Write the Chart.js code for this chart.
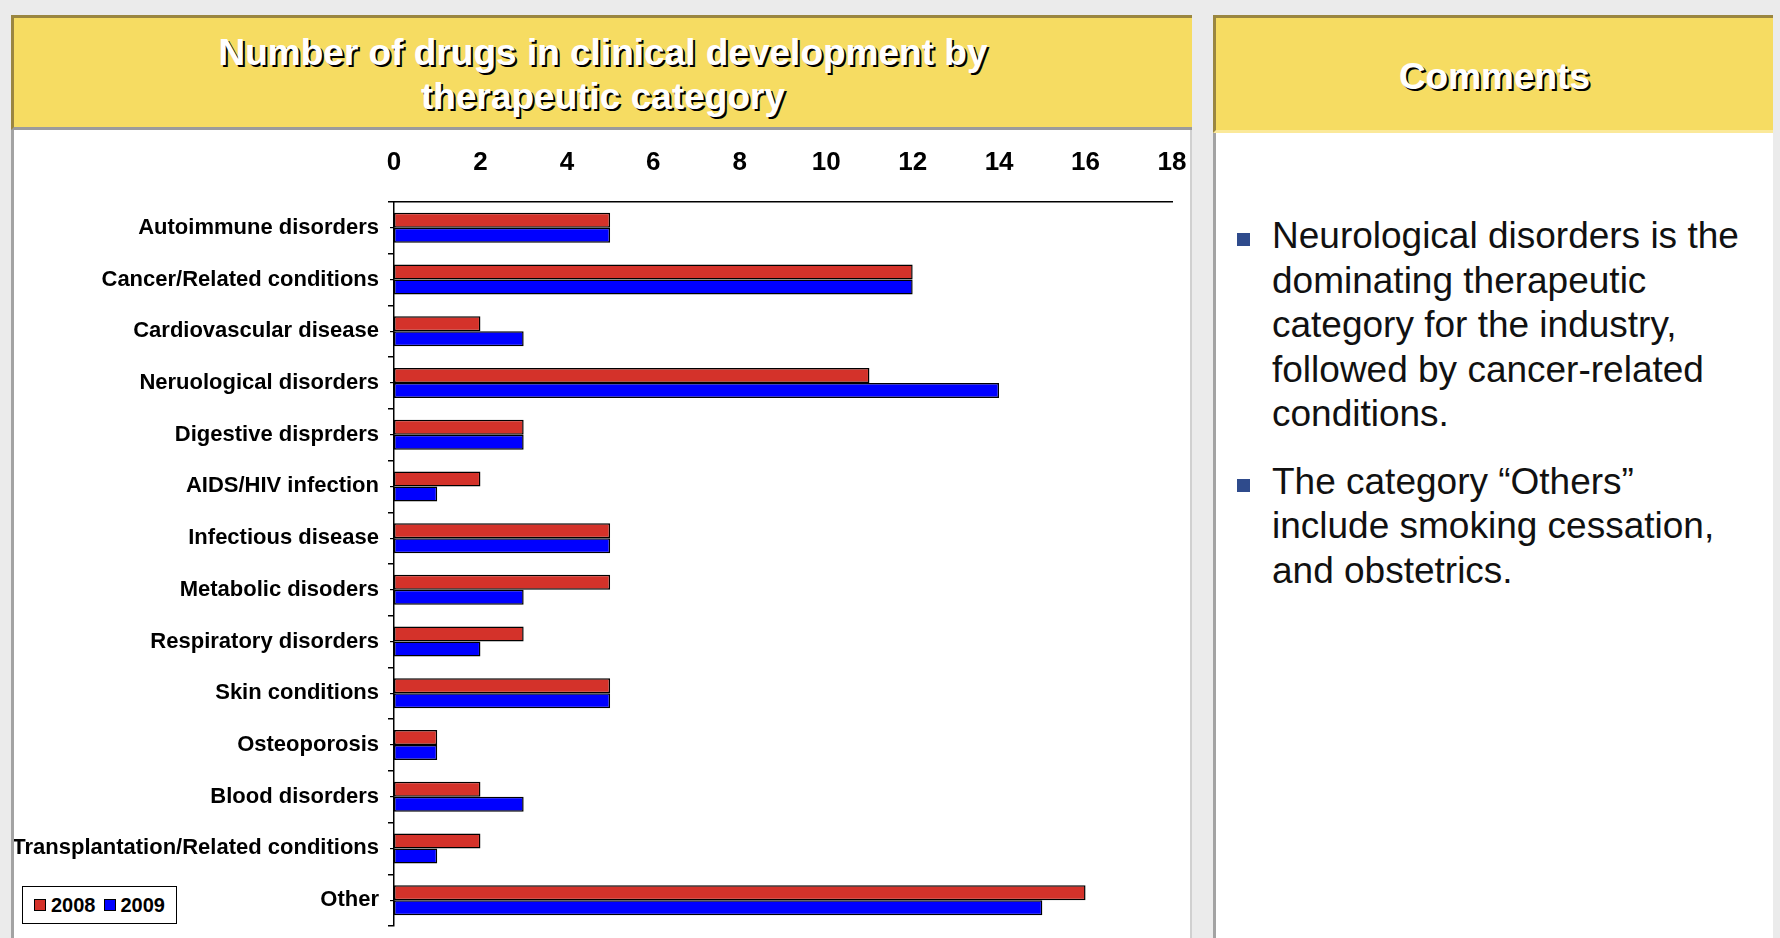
<!DOCTYPE html>
<html>
<head>
<meta charset="utf-8">
<script src="https://cdn.jsdelivr.net/npm/chart.js@4.4.1/dist/chart.umd.min.js"></script>
<style>
    body {
        margin: 0;
        width: 1780px;
        height: 938px;
        overflow: hidden;
        position: relative;
        background: #ebebeb;
        font-family: "Liberation Sans", Arial, sans-serif;
    }
    .panel {
        position: absolute;
        background: #fff;
        border-left: 3px solid #a3a3a3;
        box-sizing: border-box;
    }
    .header {
        position: absolute;
        background: #f6dc62;
        box-sizing: border-box;
        border-top: 3px solid #9a8640;
        color: #fff;
        font-weight: bold;
        font-size: 37px;
        text-align: center;
        text-shadow: 2px 2px 0 #000;
    }
    #chartHeader {
        left: 11px; top: 15px; width: 1181px; height: 115px;
        border-bottom: 3px solid #9b9b9b;
        border-left: 3px solid #9a8640;
        line-height: 44px;
        padding-top: 13px;
    }
    #commentHeader {
        left: 1213px; top: 15px; width: 560px; height: 118px;
        border-left: 3px solid #9a8640;
        border-bottom: 3px solid #fbe99a;
        line-height: 43px;
        padding-top: 37px;
    }
    #chartWrap {
        position: absolute;
        left: 14px;
        top: 130px;
        line-height: 0;
    }
    #legend {
        position: absolute;
        left: 22px; top: 886px;
        width: 155px; height: 38px;
        box-sizing: border-box;
        border: 1.5px solid #000;
        background: #fff;
        display: flex;
        align-items: center;
        justify-content: center;
        font-weight: bold;
        font-size: 20px;
    }
    #legend .sw {
        display: inline-block;
        width: 10px; height: 10px;
        border: 1.5px solid #000;
        margin: 0 5px 0 8px;
    }
    #legend .sw:first-child { margin-left: 0; }
    #comments {
        position: absolute;
        left: 1272px;
        top: 214px;
        font-size: 37px;
        line-height: 44.5px;
        color: #111;
    }
    #comments .item {
        position: relative;
        margin-bottom: 23px;
    }
    #comments .item::before {
        content: "";
        position: absolute;
        left: -35px;
        top: 19px;
        width: 13px;
        height: 13px;
        background: #2f4b8c;
    }
</style>
</head>
<body>

<div class="panel" style="left:11px; top:15px; width:1181px; height:930px; border-right:2px solid #d0d0d0;"></div>
<div class="panel" style="left:1213px; top:15px; width:560px; height:930px;"></div>

<div class="header" id="chartHeader">Number of drugs in clinical development by<br>therapeutic category</div>
<div class="header" id="commentHeader">Comments</div>

<div id="chartWrap"><canvas id="drugChart" width="1176" height="808"></canvas></div>
<div id="legend"></div>

<div id="comments">
    <div class="item">Neurological disorders is the<br>dominating therapeutic<br>category for the industry,<br>followed by cancer-related<br>conditions.</div>
    <div class="item">The category “Others”<br>include smoking cessation,<br>and obstetrics.</div>
</div>

<script>
// Chart data
const categories = [
    'Autoimmune disorders',
    'Cancer/Related conditions',
    'Cardiovascular disease',
    'Neruological disorders',
    'Digestive disprders',
    'AIDS/HIV infection',
    'Infectious disease',
    'Metabolic disoders',
    'Respiratory disorders',
    'Skin conditions',
    'Osteoporosis',
    'Blood disorders',
    'Transplantation/Related conditions',
    'Other'
];
const values2008 = [5, 12, 2, 11, 3, 2, 5, 5, 3, 5, 1, 2, 2, 16];
const values2009 = [5, 12, 3, 14, 3, 1, 5, 3, 2, 5, 1, 3, 1, 15];
const seriesNames = ['2008', '2009'];
const seriesColors = ['#d4322a', '#0000ff'];
const xMin = 0;
const xMax = 18;
const xStep = 2;

// Build legend from the series
const legend = document.getElementById('legend');
seriesNames.forEach((name, i) => {
    const sw = document.createElement('span');
    sw.className = 'sw';
    sw.style.background = seriesColors[i];
    legend.appendChild(sw);
    const txt = document.createElement('span');
    txt.textContent = name;
    legend.appendChild(txt);
});

const ctx = document.getElementById('drugChart').getContext('2d');
const drugChart = new Chart(ctx, {
    type: 'bar',
    data: {
        labels: categories,
        datasets: [{
            label: seriesNames[0],
            data: values2008,
            backgroundColor: seriesColors[0],
            borderColor: '#000',
            borderWidth: 1.5,
            borderSkipped: false
        }, {
            label: seriesNames[1],
            data: values2009,
            backgroundColor: seriesColors[1],
            borderColor: '#000',
            borderWidth: 1.5,
            borderSkipped: false
        }]
    },
    options: {
        indexAxis: 'y',
        responsive: false,
        animation: false,
        layout: { padding: { top: 0, right: 18, bottom: 12, left: 0 } },
        datasets: { bar: { categoryPercentage: 0.58, barPercentage: 1.0 } },
        plugins: {
            legend: { display: false },
            tooltip: { enabled: false }
        },
        scales: {
            x: {
                position: 'top',
                min: xMin,
                max: xMax,
                ticks: {
                    stepSize: xStep,
                    padding: 24,
                    color: '#000',
                    font: { family: 'Liberation Sans', size: 26, weight: 'bold' }
                },
                grid: { display: false, drawTicks: false },
                border: { display: true, color: '#000', width: 1.5 },
                afterFit: function(scale) {
                    scale.height = 72;
                    scale.paddingLeft = 0;
                    scale.paddingRight = 0;
                }
            },
            y: {
                weight: 1,
                ticks: {
                    autoSkip: false,
                    padding: 9,
                    color: '#000',
                    font: { family: 'Liberation Sans', size: 22, weight: 'bold' }
                },
                grid: { drawOnChartArea: false, tickLength: 6, color: '#000', lineWidth: 1.5, offset: true },
                border: { color: '#000', width: 1.5 },
                afterFit: function(scale) {
                    scale.width = 380;
                    scale.paddingTop = 0;
                    scale.paddingBottom = 0;
                }
            },
            y2: {
                type: 'category',
                position: 'left',
                weight: 0,
                offset: true,
                ticks: { display: false },
                grid: { drawOnChartArea: false, tickLength: 4, color: '#000', lineWidth: 1.2, offset: false },
                border: { display: false },
                afterFit: function(scale) {
                    scale.width = 0;
                    scale.paddingTop = 0;
                    scale.paddingBottom = 0;
                }
            }
        }
    }
});
</script>
</body>
</html>
